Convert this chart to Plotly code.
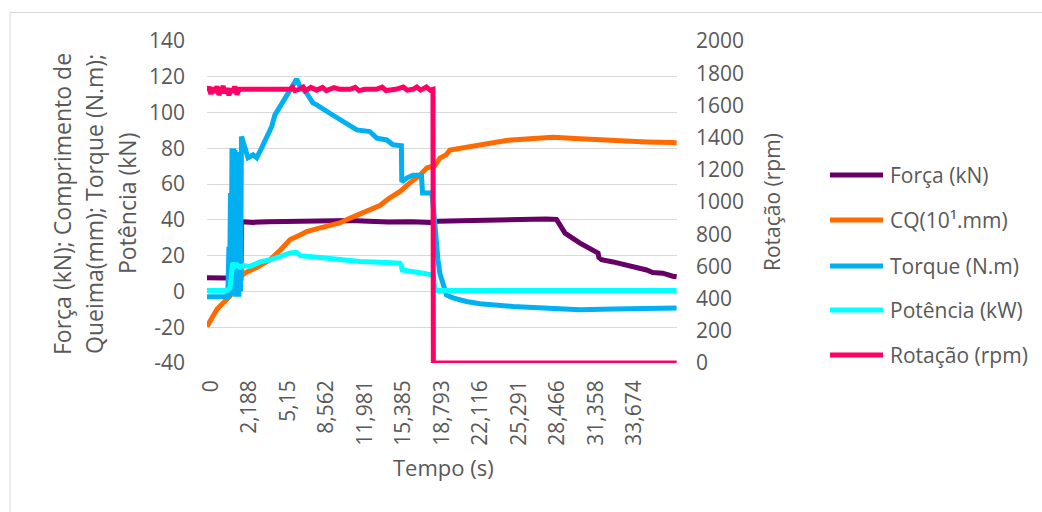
import plotly.graph_objects as go

# ---- category axis (sample index) and its time labels ----
tick_pos = [10, 110, 210, 310, 410, 510, 610, 710, 810, 910, 1010, 1110]
tick_text = ["0", "2,188", "5,15", "8,562", "11,981", "15,385", "18,793",
             "22,116", "25,291", "28,466", "31,358", "33,674"]
x_end = 1221

# left and right axis ticks
left_ticks = [-40, -20, 0, 20, 40, 60, 80, 100, 120, 140]
left_text = ["-40", "-20", "0", "20", "40", "60", "80", "100", "120", "140"]
right_ticks = [0, 200, 400, 600, 800, 1000, 1200, 1400, 1600, 1800, 2000]

# ---- Força (kN) ----
forca_x = [0, 52, 85, 88, 89.6, 120, 160, 200, 250, 320, 372, 420, 470, 530, 580,
           600, 650, 700, 750, 800, 850, 880, 908, 921, 930, 969, 1016, 1018, 1025,
           1055, 1106, 1142, 1158, 1184, 1210, 1220]
forca_y = [7.6, 7.3, 7.2, 7.4, 39, 38.6, 39.0, 39.2, 39.5, 39.8, 39.6, 39.3, 38.8, 38.9,
           38.6, 39.3, 39.5, 39.8, 40.3, 40.6, 40.2, 40.5, 40.3, 36.3, 32.6, 27, 21.4,
           19, 17.7, 16.5, 14, 12, 10.6, 10.2, 8.5, 8.2]

# ---- CQ (10¹.mm) ----
cq_x = [0, 26, 60, 75, 86, 91, 100, 112, 130, 142, 164, 190, 216, 242, 259, 294, 320,
        345, 372, 397, 430, 449, 475, 501, 527, 553, 571, 580, 592, 605, 622, 631, 674,
        709, 753, 778, 839, 882, 899, 969, 1055, 1142, 1210, 1220]
cq_y = [-19.6, -10, -2.5, 2, 6.5, 9, 10.5, 11.5, 13.5, 15, 17.7, 23, 29, 31.6, 33.5,
        35.5, 37, 38.3, 41, 43.4, 46, 48, 52.3, 55.8, 60.7, 65, 69, 69.5, 70.5, 74.5,
        76.5, 79, 80.6, 81.8, 84, 84.4, 85.3, 86, 86.2, 85.4, 84.3, 83.6, 83.2, 83]

# ---- Torque (N.m) ----
torque_x = [0, 52, 54, 57, 58.5, 61, 62.5, 65, 67, 69, 71, 73, 75, 77, 79, 81, 83, 85,
            87, 89.6, 98.7, 106.5, 119.5, 129, 142, 150.6, 158.4, 168, 176.6, 189.6,
            202.6, 215.6, 228.5, 233, 241.5, 250, 259, 275, 285, 319, 363, 389, 423, 441,
            467, 483, 505, 506, 520, 535, 557, 560, 579, 584, 589, 592, 600, 605, 613,
            622, 631, 639, 674, 709, 795, 882, 969, 1055, 1142, 1220]
torque_y = [-3, -3.2, -3, 25, -3, 55, 0, 80, -2, 80, -2, 79, -3, 78, -2, 77, -3, 76, 0,
            86.6, 79, 74.7, 76.4, 74.7, 80.3, 84.7, 88.6, 92.2, 98.7, 103.4, 108, 113.6,
            117.3, 118.7, 114.5, 112.7, 110.8, 105.4, 104.3, 99.6, 94, 90.3, 89.4, 85.7,
            84.7, 82, 81.4, 61.4, 63.5, 65, 65, 55, 55, 55.5, 45, 36, 17.7, 10, 4.8, -1.9,
            -2.8, -3.6, -5.6, -6.9, -8.4, -9.3, -10.3, -9.8, -9.8, -9.3]

# ---- Potência (kW) ----
pot_x = [0, 52, 60, 64, 67, 72, 78, 86, 95, 112, 138, 164, 190, 216, 233, 242, 294,
         345, 397, 449, 501, 505, 507, 561, 583, 589, 592, 1220]
pot_y = [0.5, 0.5, 2, 12, 16, 14, 15, 13.5, 14.5, 14, 16.5, 17.7, 19.5, 21.5, 21.8, 20,
         19, 17.8, 16.8, 16.3, 15.8, 14.5, 12, 10.2, 9.3, 8, 0.5, 0.5]

# ---- Rotação (rpm), secondary axis ----
rot_x = [0, 5, 10, 15, 20, 26, 31, 36, 42, 47, 52, 57, 62, 67, 72, 78, 84, 90, 216,
         222, 228, 240, 250, 256, 270, 285, 300, 310, 330, 345, 372, 385, 395, 410,
         440, 455, 465, 490, 510, 520, 535, 545, 555, 570, 580, 587, 588, 1220]
rot_y = [1690, 1715, 1670, 1712, 1680, 1718, 1665, 1700, 1720, 1675, 1708, 1662, 1705,
         1680, 1718, 1668, 1700, 1700, 1700, 1712, 1692, 1700, 1714, 1692, 1712, 1695,
         1712, 1692, 1710, 1700, 1700, 1712, 1692, 1700, 1700, 1714, 1692, 1700, 1714,
         1695, 1700, 1714, 1695, 1714, 1695, 1700, 0, 0]

names = ["Força (kN)", "CQ(10¹.mm)", "Torque (N.m)", "Potência (kW)", "Rotação (rpm)"]
colors = ["#660066", "#FF6A00", "#00B0F0", "#00FFFF", "#FF0066"]

TXT = "#595959"
FONT = "Open Sans"
LW = 5

fig = go.Figure()
series = [(forca_x, forca_y, "y"), (cq_x, cq_y, "y"), (torque_x, torque_y, "y"),
          (pot_x, pot_y, "y"), (rot_x, rot_y, "y2")]
for (xs, ys, ax), name, col in zip(series, names, colors):
    fig.add_trace(go.Scatter(x=xs, y=ys, name=name, mode="lines", yaxis=ax,
                             line=dict(color=col, width=LW), showlegend=False))

# plot area in pixels
L, R, T, B = 207, 677, 41, 363
W, H = 1042, 512
pw, ph = R - L, B - T


def px(xp):
    return (xp - L) / pw


def py(yp):
    return (B - yp) / ph


annotations = []
shapes = []

# left axis title, three centred lines
for xp, txt in [(62, "Força (kN); Comprimento de"), (94, "Queima(mm); Torque (N.m);"),
                (127, "Potência (kN)")]:
    annotations.append(dict(x=px(xp), y=py(204), xref="paper", yref="paper", text=txt,
                            textangle=-90, showarrow=False, xanchor="center",
                            yanchor="middle", font=dict(family=FONT, size=23, color=TXT)))
# right axis title
annotations.append(dict(x=px(772), y=py(202), xref="paper", yref="paper",
                        text="Rotação (rpm)", textangle=-90, showarrow=False,
                        xanchor="center", yanchor="middle",
                        font=dict(family=FONT, size=21, color=TXT)))
# x axis title
annotations.append(dict(x=px(443), y=py(467), xref="paper", yref="paper",
                        text="Tempo (s)", showarrow=False, xanchor="center",
                        yanchor="middle", font=dict(family=FONT, size=22, color=TXT)))

# legend
for yp, name, col in zip([175, 220, 266, 310, 355], names, colors):
    shapes.append(dict(type="line", xref="paper", yref="paper", x0=px(830), x1=px(883),
                       y0=py(yp), y1=py(yp), line=dict(color=col, width=LW)))
    annotations.append(dict(x=px(888), y=py(yp), xref="paper", yref="paper", text=name,
                            showarrow=False, xanchor="left", yanchor="middle",
                            font=dict(family=FONT, size=21, color=TXT)))

# chart frame
shapes.append(dict(type="rect", xref="paper", yref="paper", x0=px(10), x1=px(1060),
                   y0=py(530), y1=py(12.5), line=dict(color="#D9D9D9", width=1),
                   fillcolor="rgba(0,0,0,0)"))

fig.update_layout(
    width=W, height=H,
    margin=dict(l=L, r=W - R, t=T, b=H - B, pad=0),
    paper_bgcolor="white", plot_bgcolor="white",
    font=dict(family=FONT, size=21, color=TXT),
    showlegend=False,
    xaxis=dict(range=[0, x_end], tickmode="array", tickvals=tick_pos, ticktext=tick_text,
               tickangle=-90, showgrid=False, zeroline=False, showline=False,
               ticklabelstandoff=12, tickfont=dict(family=FONT, size=21, color=TXT)),
    yaxis=dict(range=[-40, 140], tickmode="array", tickvals=left_ticks, ticktext=left_text,
               showgrid=True, gridcolor="#D9D9D9", gridwidth=1, zeroline=False,
               showline=False, ticklabelstandoff=21,
               tickfont=dict(family=FONT, size=21, color=TXT)),
    yaxis2=dict(range=[0, 2000], tickmode="array", tickvals=right_ticks, overlaying="y",
                side="right", showgrid=False, zeroline=False, showline=False,
                ticklabelstandoff=18, tickfont=dict(family=FONT, size=21, color=TXT)),
    annotations=annotations,
    shapes=shapes,
)

fig.write_html("out.html")
